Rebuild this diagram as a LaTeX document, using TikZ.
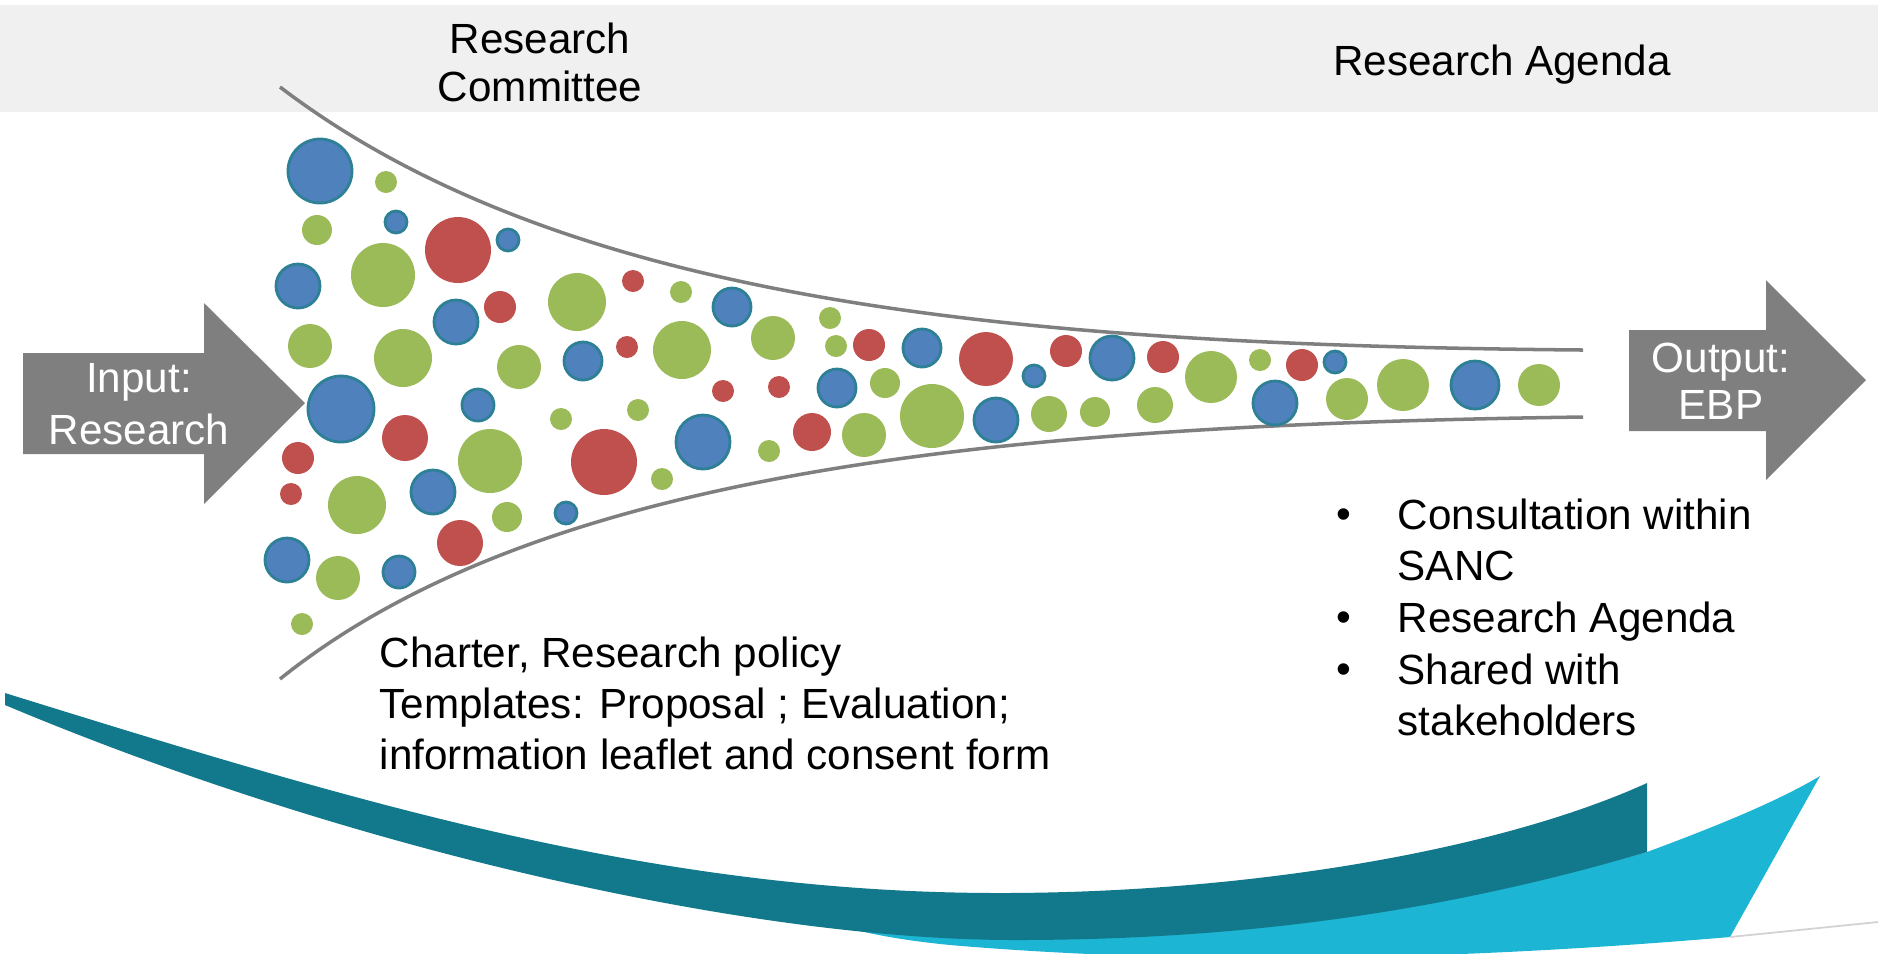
\documentclass[tikz,border=0pt]{standalone}
\usepackage{fontspec}
\setmainfont{Liberation Sans}
\definecolor{bandgray}{HTML}{F0F0F0}
\definecolor{funnelgray}{HTML}{7F7F7F}
\definecolor{ballblue}{HTML}{4F81BD}
\definecolor{ballrim}{HTML}{2E8096}
\definecolor{ballred}{HTML}{C0504D}
\definecolor{ballgreen}{HTML}{9BBB59}
\definecolor{swooshdark}{HTML}{12798C}
\definecolor{swooshlight}{HTML}{1CB5D3}

\begin{document}
\begin{tikzpicture}[x=0.01cm,y=-0.01cm,
  txt/.style={inner sep=0pt,font=\fontsize{12}{14.5}\selectfont},
  blueball/.style={fill=ballblue,draw=ballrim,line width=.8pt},
  redball/.style={fill=ballred},
  greenball/.style={fill=ballgreen}]
\useasboundingbox (0,0) rectangle (1878,953);
\fill[bandgray] (0,5) rectangle (1878,112);
%
% swoosh
\begin{scope}
\clip (0,0) rectangle (1878,953);
\fill[swooshlight] (1820,776) -- (1730,937) .. controls (1400,965) and (1150,962) .. (950,945)
  .. controls (900,940) and (870,934) .. (840,926) -- (840,915)
  .. controls (1000,925) and (1250,915) .. (1443,895)
  .. controls (1550,880) and (1600,865) .. (1647,852)
  .. controls (1720,825) and (1780,800) .. (1820,776) -- cycle;
\fill[swooshdark] (5,693) .. controls (350,800) and (650,893) .. (1000,893)
  .. controls (1250,893) and (1500,850) .. (1647,783) -- (1647,852)
  .. controls (1450,910) and (1250,940) .. (1015,940)
  .. controls (750,940) and (350,850) .. (5,705) -- cycle;
\draw[gray!35,line width=.5pt] (1730,937) -- (1878,922);
\end{scope}
%
% embudo
\draw[funnelgray,line width=1pt] (280,87) .. controls (560,300) and (1000,345) .. (1583,350);
\draw[funnelgray,line width=1pt] (280,679) .. controls (540,470) and (1000,425) .. (1583,417);
%
\foreach \x/\y/\r in {320/171/32,396/222/11,508/240/11,298/286/22,456/322/22,583/361/19,
  341/409/33,478/405/16,703/442/27,433/492/22,566/513/11,287/560/22,399/572/16,732/307/19,
  922/348/19,1034/376/11,1112/358/22,837/388/19,996/420/22,1335/362/11,1275/403/22,1475/385/24}
\draw[blueball] (\x,\y) circle (\r);
\foreach \x/\y/\r in {458/250/33,500/307/16,633/281/11,627/347/11,405/438/23,604/462/33,
  298/458/16,291/494/11,460/543/23,869/345/16,986/359/27,1066/351/16,723/391/11,779/387/11,
  812/432/19,1163/357/16,1302/365/16}
\fill[redball] (\x,\y) circle (\r);
\foreach \x/\y/\r in {386/182/11,317/230/15,383/275/32,577/302/29,681/292/11,310/346/22,
  403/358/29,519/367/22,682/350/29,561/419/11,638/410/11,490/461/32,357/505/29,507/517/15,
  662/479/11,338/578/22,302/624/11,773/338/22,830/318/11,836/346/11,885/383/15,769/451/11,
  864/435/22,932/416/32,1049/414/18,1095/412/15,1211/377/26,1260/360/11,1155/405/18,
  1347/399/21,1403/385/26,1539/385/21}
\fill[greenball] (\x,\y) circle (\r);
%
% flechas
\fill[funnelgray] (23,353) -- (204,353) -- (204,303) -- (305,403) -- (204,504) -- (204,454) -- (23,454) -- cycle;
\fill[funnelgray] (1629,330) -- (1766,330) -- (1766,280) -- (1866,380) -- (1766,480) -- (1766,431) -- (1629,431) -- cycle;
%
\node[txt,align=center,anchor=north,font=\fontsize{12}{13.7}\selectfont] (committee) at (540,22) {Research\\Committee};
\node[txt,anchor=base] (agenda) at (1502,75) {Research Agenda};
\node[txt,align=center,anchor=north,text=white,font=\fontsize{12}{14.8}\selectfont] (input) at (139,363) {Input:\\Research};
\node[txt,align=center,anchor=north,text=white,font=\fontsize{12}{13.4}\selectfont] (output) at (1721,342) {Output:\\EBP};
\node[txt,align=left,anchor=north west] (templates) at (379,636) {Charter, Research policy\\Templates: Proposal ; Evaluation;\\information leaflet and consent form};
\node[txt,align=left,anchor=north west] (item1) at (1397,498) {Consultation within\\SANC};
\node[txt,align=left,anchor=north west] (item2) at (1397,601) {Research Agenda};
\node[txt,align=left,anchor=north west] (item3) at (1397,653) {Shared with\\stakeholders};
\foreach \b/\y in {1/528,2/631,3/683}
\node[txt,anchor=base] (bullet\b) at (1344,\y) {•};
\end{tikzpicture}
\end{document}
